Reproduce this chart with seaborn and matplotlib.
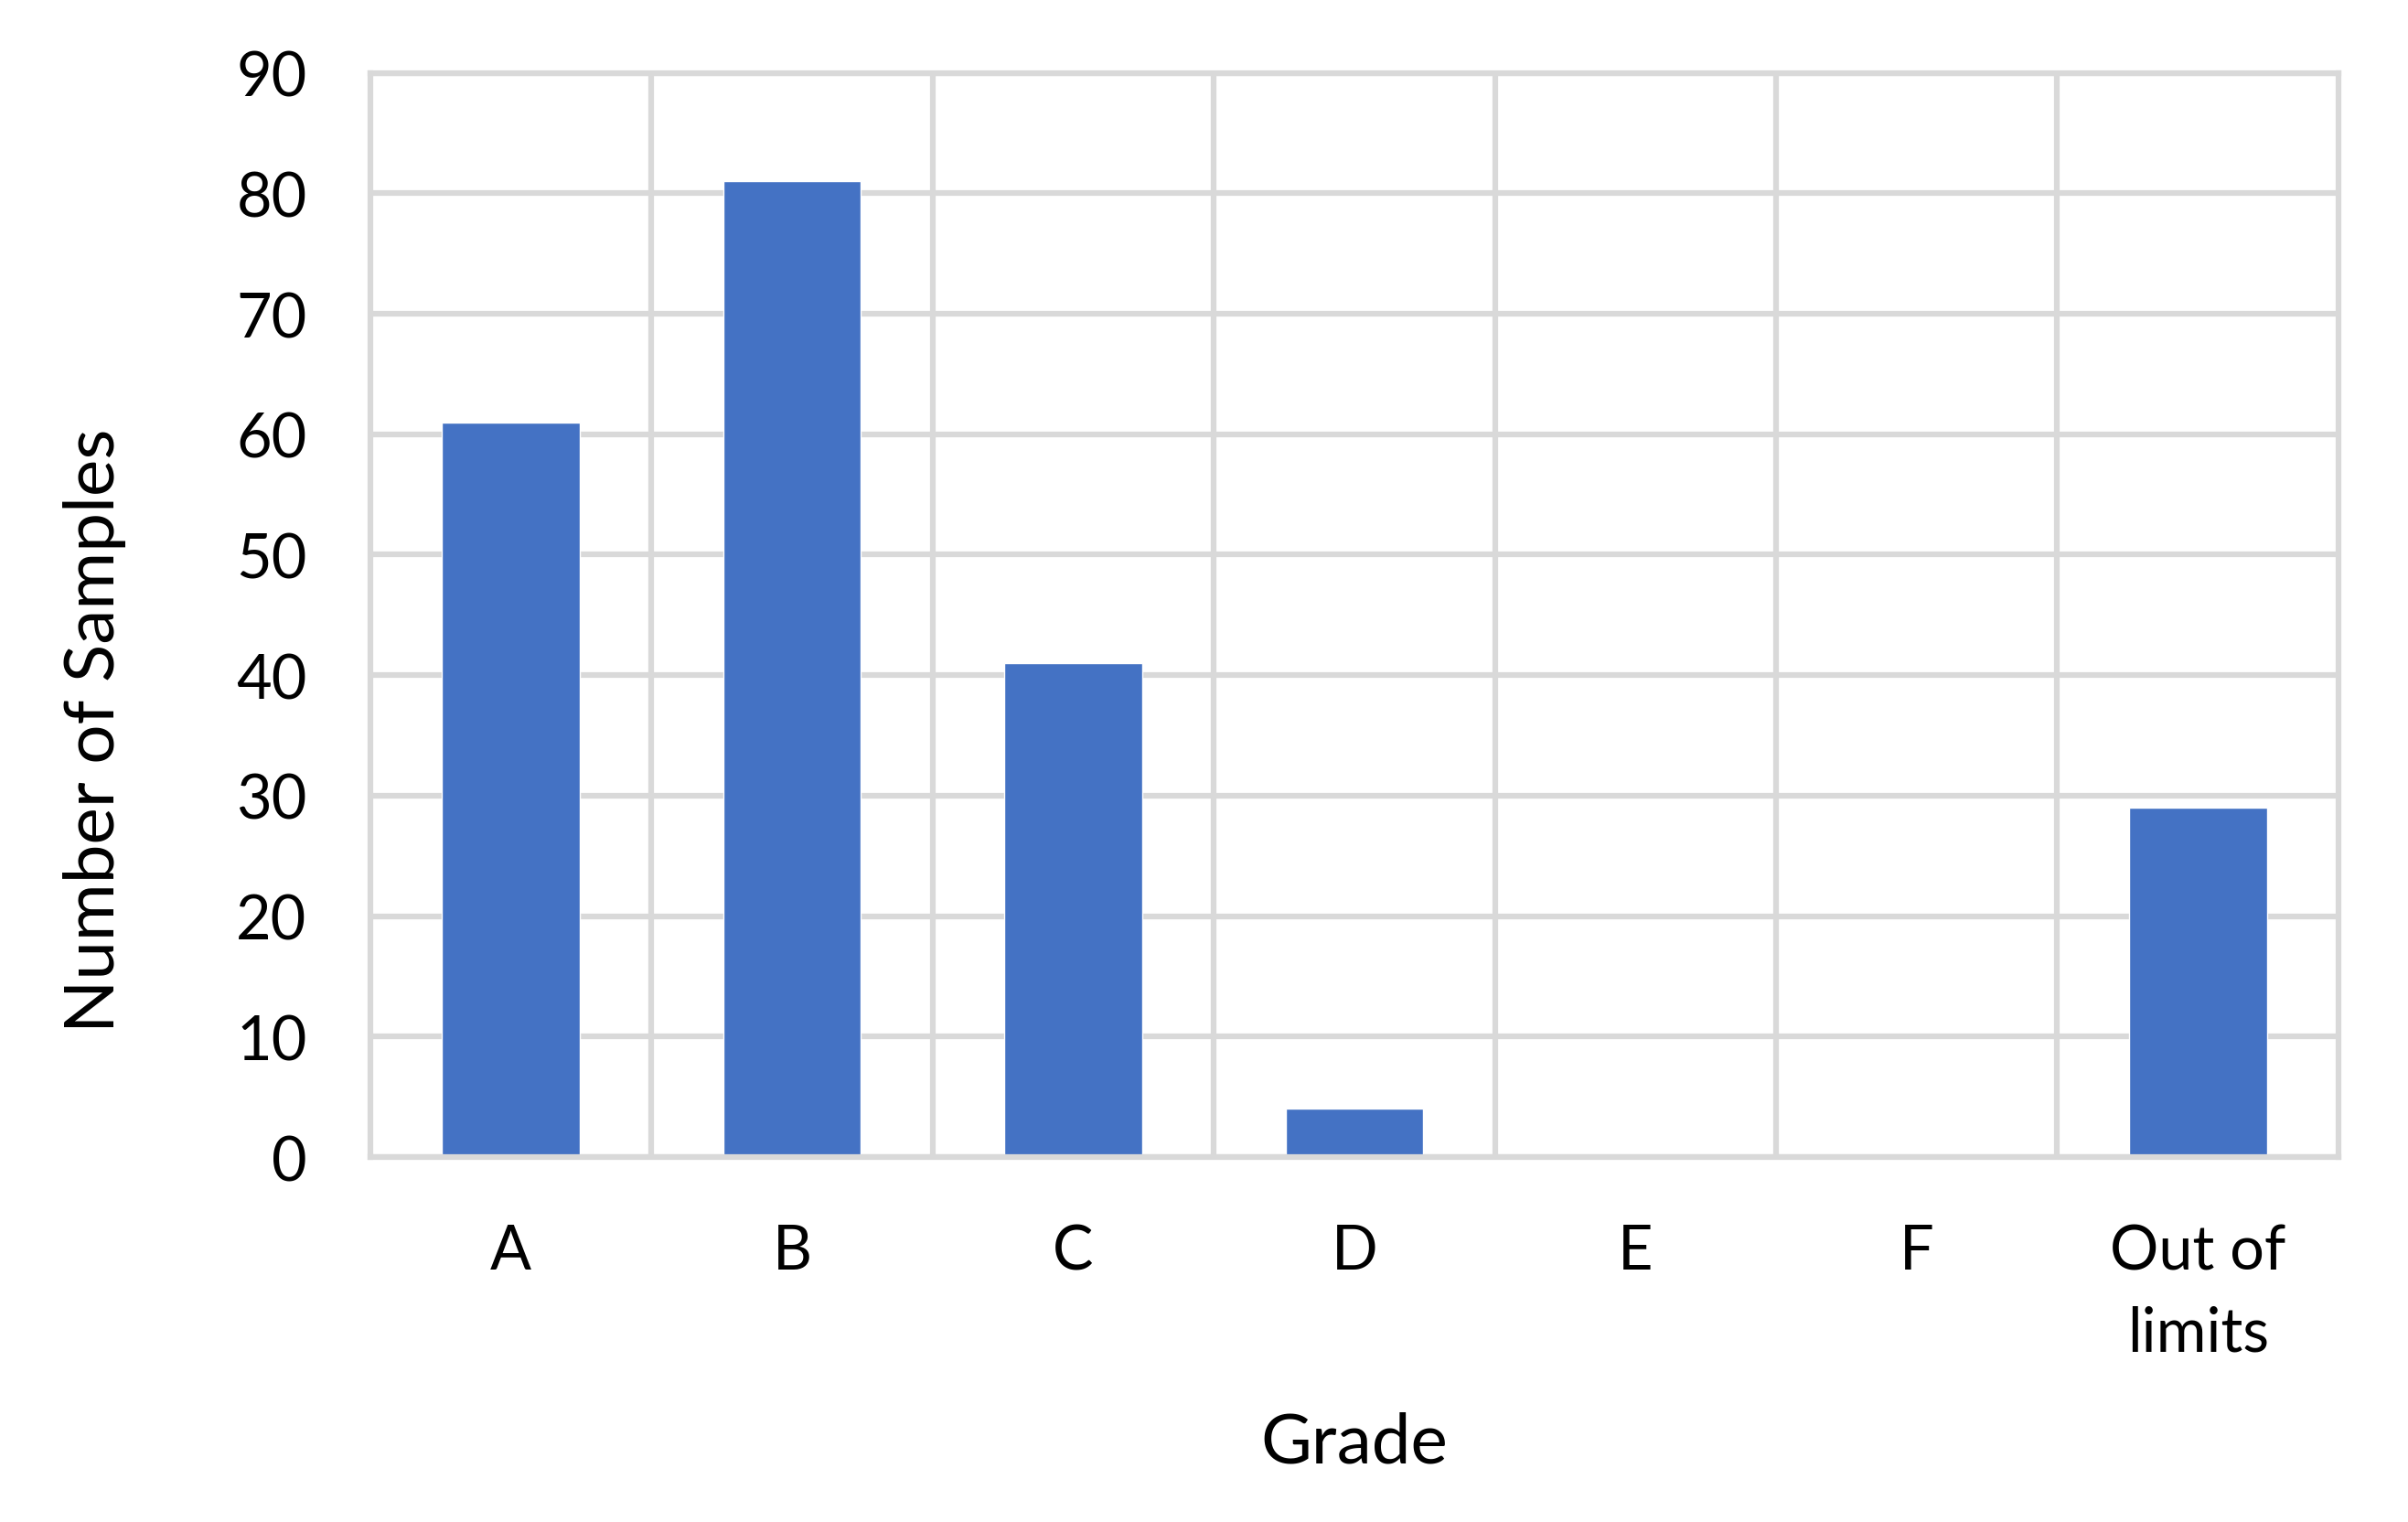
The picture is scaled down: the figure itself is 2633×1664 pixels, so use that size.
import matplotlib
matplotlib.use("Agg")
import matplotlib.pyplot as plt
from matplotlib.ticker import MultipleLocator, FixedLocator
import seaborn as sns
import pandas as pd

# data
grades = ["A", "B", "C", "D", "E", "F", "Out of\nlimits"]
samples = [61, 81, 41, 4, 0, 0, 29]

df = pd.DataFrame({"grade": grades, "samples": samples})

sns.set_style("white")
plt.rcParams['font.family'] = ['Lato', 'DejaVu Sans']
plt.rcParams['text.color'] = 'black'
plt.rcParams['axes.labelcolor'] = 'black'

grid_col = "#D9D9D9"
grid_lw = 4.5

fig = plt.figure(figsize=(26.33, 16.65), dpi=100)
ax = fig.add_axes([0.1538, 0.2396, 0.8173, 0.712])

sns.barplot(data=df, x="grade", y="samples", color="#4472C4",
            saturation=1, width=0.49, ax=ax)

ax.set_xlim(-0.5, len(grades) - 0.5)
ax.set_ylim(0, 90)
ax.yaxis.set_major_locator(MultipleLocator(10))
ax.xaxis.set_minor_locator(FixedLocator([i + 0.5 for i in range(len(grades) - 1)]))

ax.set_axisbelow(True)
ax.grid(axis="y", which="major", color=grid_col, linewidth=grid_lw)
ax.grid(axis="x", which="minor", color=grid_col, linewidth=grid_lw)
for s in ax.spines.values():
    s.set_visible(True)
    s.set_color(grid_col)
    s.set_linewidth(grid_lw)

ax.tick_params(axis="both", which="both", length=0, labelsize=48, colors="black")
ax.tick_params(axis="y", pad=50)
ax.tick_params(axis="x", pad=52)
for lbl in ax.get_xticklabels():
    lbl.set_linespacing(1.55)
    lbl.set_va("top")

ax.set_xlabel("Grade", fontsize=55, va="center")
ax.set_ylabel("Number of Samples", fontsize=55, va="center")
ax.xaxis.set_label_coords(0.5, -0.263)
ax.yaxis.set_label_coords(-0.140, 0.394)

fig.savefig("out.png", dpi=100, facecolor="white")
